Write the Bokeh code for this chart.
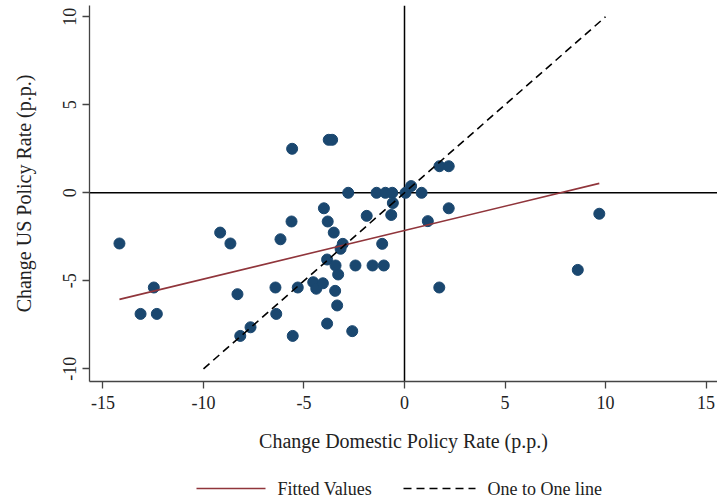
from bokeh.plotting import figure
from bokeh.layouts import column
from bokeh.models import Range1d, FixedTicker, Span
from bokeh.core.properties import value
from bokeh.embed import file_html
from bokeh.resources import INLINE
import numpy as np

# Change in domestic policy rate (p.p.) and change in US policy rate (p.p.)
domestic_change = [
    -14.18, -12.47, -13.13, -12.32, -9.17, -8.66, -8.31, -8.17, -7.66,
    -6.17, -6.42, -6.38, -5.62, -5.56, -5.31, -4.54, -4.39, -4.06,
    -4.01, -3.82, -3.85, -3.52, -3.43, -3.30, -3.45, -3.35, -3.85,
    -3.07, -3.18, -2.80, -2.60, -2.44, -1.88, -1.59, -1.39, -1.11,
    -1.03, -0.95, -0.61, -0.66, -0.58, 0.05, 0.33, 0.85, 1.74, 2.20,
    2.20, 1.16, 1.73, 8.62, 9.69, -5.59, -3.77, -3.60,
]
us_change = [
    -2.88, -5.38, -6.88, -6.88, -2.26, -2.88, -5.76, -8.13, -7.64,
    -2.64, -5.38, -6.88, -1.63, -8.13, -5.38, -5.08, -5.45, -5.14,
    -0.88, -1.63, -3.79, -2.26, -4.13, -4.64, -5.57, -6.40, -7.43,
    -2.90, -3.18, 0.00, -7.86, -4.13, -1.31, -4.13, 0.00, -2.90,
    -4.13, 0.00, 0.00, -1.26, -0.58, 0.00, 0.38, 0.00, 1.51, 1.51,
    -0.88, -1.61, -5.38, -4.38, -1.19, 2.50, 3.01, 3.01,
]

# Linear fit of US change on domestic change
fit_intercept = -2.14
fit_slope = 0.276

# 45-degree reference line
one_to_one = [-10, 10]

x_ticks = [-15, -10, -5, 0, 5, 10, 15]
y_ticks = [-10, -5, 0, 5, 10]
legend_labels = ["Fitted Values", "One to One line"]

FONT = "Liberation Serif"
NAVY = "#1a476f"
MAROON = "#90353b"
FIT_STYLE = dict(line_color=MAROON, line_width=1.6)
ONE_STYLE = dict(line_color="black", line_width=1.6, line_dash="8 5")

p = figure(
    width=717, height=463,
    x_range=Range1d(-15.67, 15.57), y_range=Range1d(-10.72, 10.64),
    output_backend="svg", toolbar_location=None,
    min_border_left=89, min_border_right=0,
    min_border_top=5, min_border_bottom=82,
)
p.outline_line_color = None
p.xgrid.visible = False
p.ygrid.visible = False

# zero lines behind the points
p.add_layout(Span(location=0, dimension="height", line_color="black",
                  line_width=1.5, level="underlay"))
p.add_layout(Span(location=0, dimension="width", line_color="black",
                  line_width=1.5, level="underlay"))

p.scatter(domestic_change, us_change, size=11, color=NAVY, line_color=NAVY)

fx = np.array([min(domestic_change), max(domestic_change)])
p.line(fx, fit_intercept + fit_slope * fx, **FIT_STYLE)
p.line(one_to_one, one_to_one, **ONE_STYLE)

for ax, ticks in ((p.xaxis[0], x_ticks), (p.yaxis[0], y_ticks)):
    ax.ticker = FixedTicker(ticks=ticks)
    ax.major_label_overrides = {t: str(t) for t in ticks}
    ax.minor_tick_line_color = None
    ax.major_tick_out = 7
    ax.major_tick_in = 0
    ax.axis_line_color = "#444444"
    ax.axis_line_width = 1.3
    ax.major_tick_line_color = "#444444"
    ax.major_tick_line_width = 1.3
    ax.major_label_text_font = FONT
    ax.major_label_text_font_size = "18px"
    ax.major_label_text_color = "#222222"
    ax.axis_label_text_font = FONT
    ax.axis_label_text_font_size = "20px"
    ax.axis_label_text_font_style = "normal"
    ax.axis_label_text_color = "#222222"

p.xaxis.axis_label = "Change Domestic Policy Rate (p.p.)"
p.yaxis.axis_label = "Change US Policy Rate (p.p.)"
p.xaxis.major_label_standoff = 7
p.xaxis.axis_label_standoff = 18
p.yaxis.major_label_standoff = 6
p.yaxis.major_label_orientation = "vertical"
p.yaxis.axis_label_standoff = 26

# key strip underneath the chart; its frame lines up with the chart frame
# (89..717 px), so the range is expressed in page pixels
key = figure(
    width=717, height=39, x_range=Range1d(89, 717), y_range=Range1d(0, 39),
    x_axis_type=None, y_axis_type=None,
    output_backend="svg", toolbar_location=None,
    min_border_left=0, min_border_right=0, min_border_top=0, min_border_bottom=0,
)
key.outline_line_color = None
key.xgrid.visible = False
key.ygrid.visible = False
row_y = 14
key.line([196, 265], [row_y, row_y], **FIT_STYLE)
key.line([403, 475], [row_y, row_y], **ONE_STYLE)
key.text(x=[277, 487], y=[row_y, row_y], text=legend_labels,
         text_font=value(FONT), text_font_size="18px", text_color="#222222",
         text_align="left", text_baseline="middle")

open("out.html", "w").write(file_html(column(p, key, spacing=0), INLINE))
